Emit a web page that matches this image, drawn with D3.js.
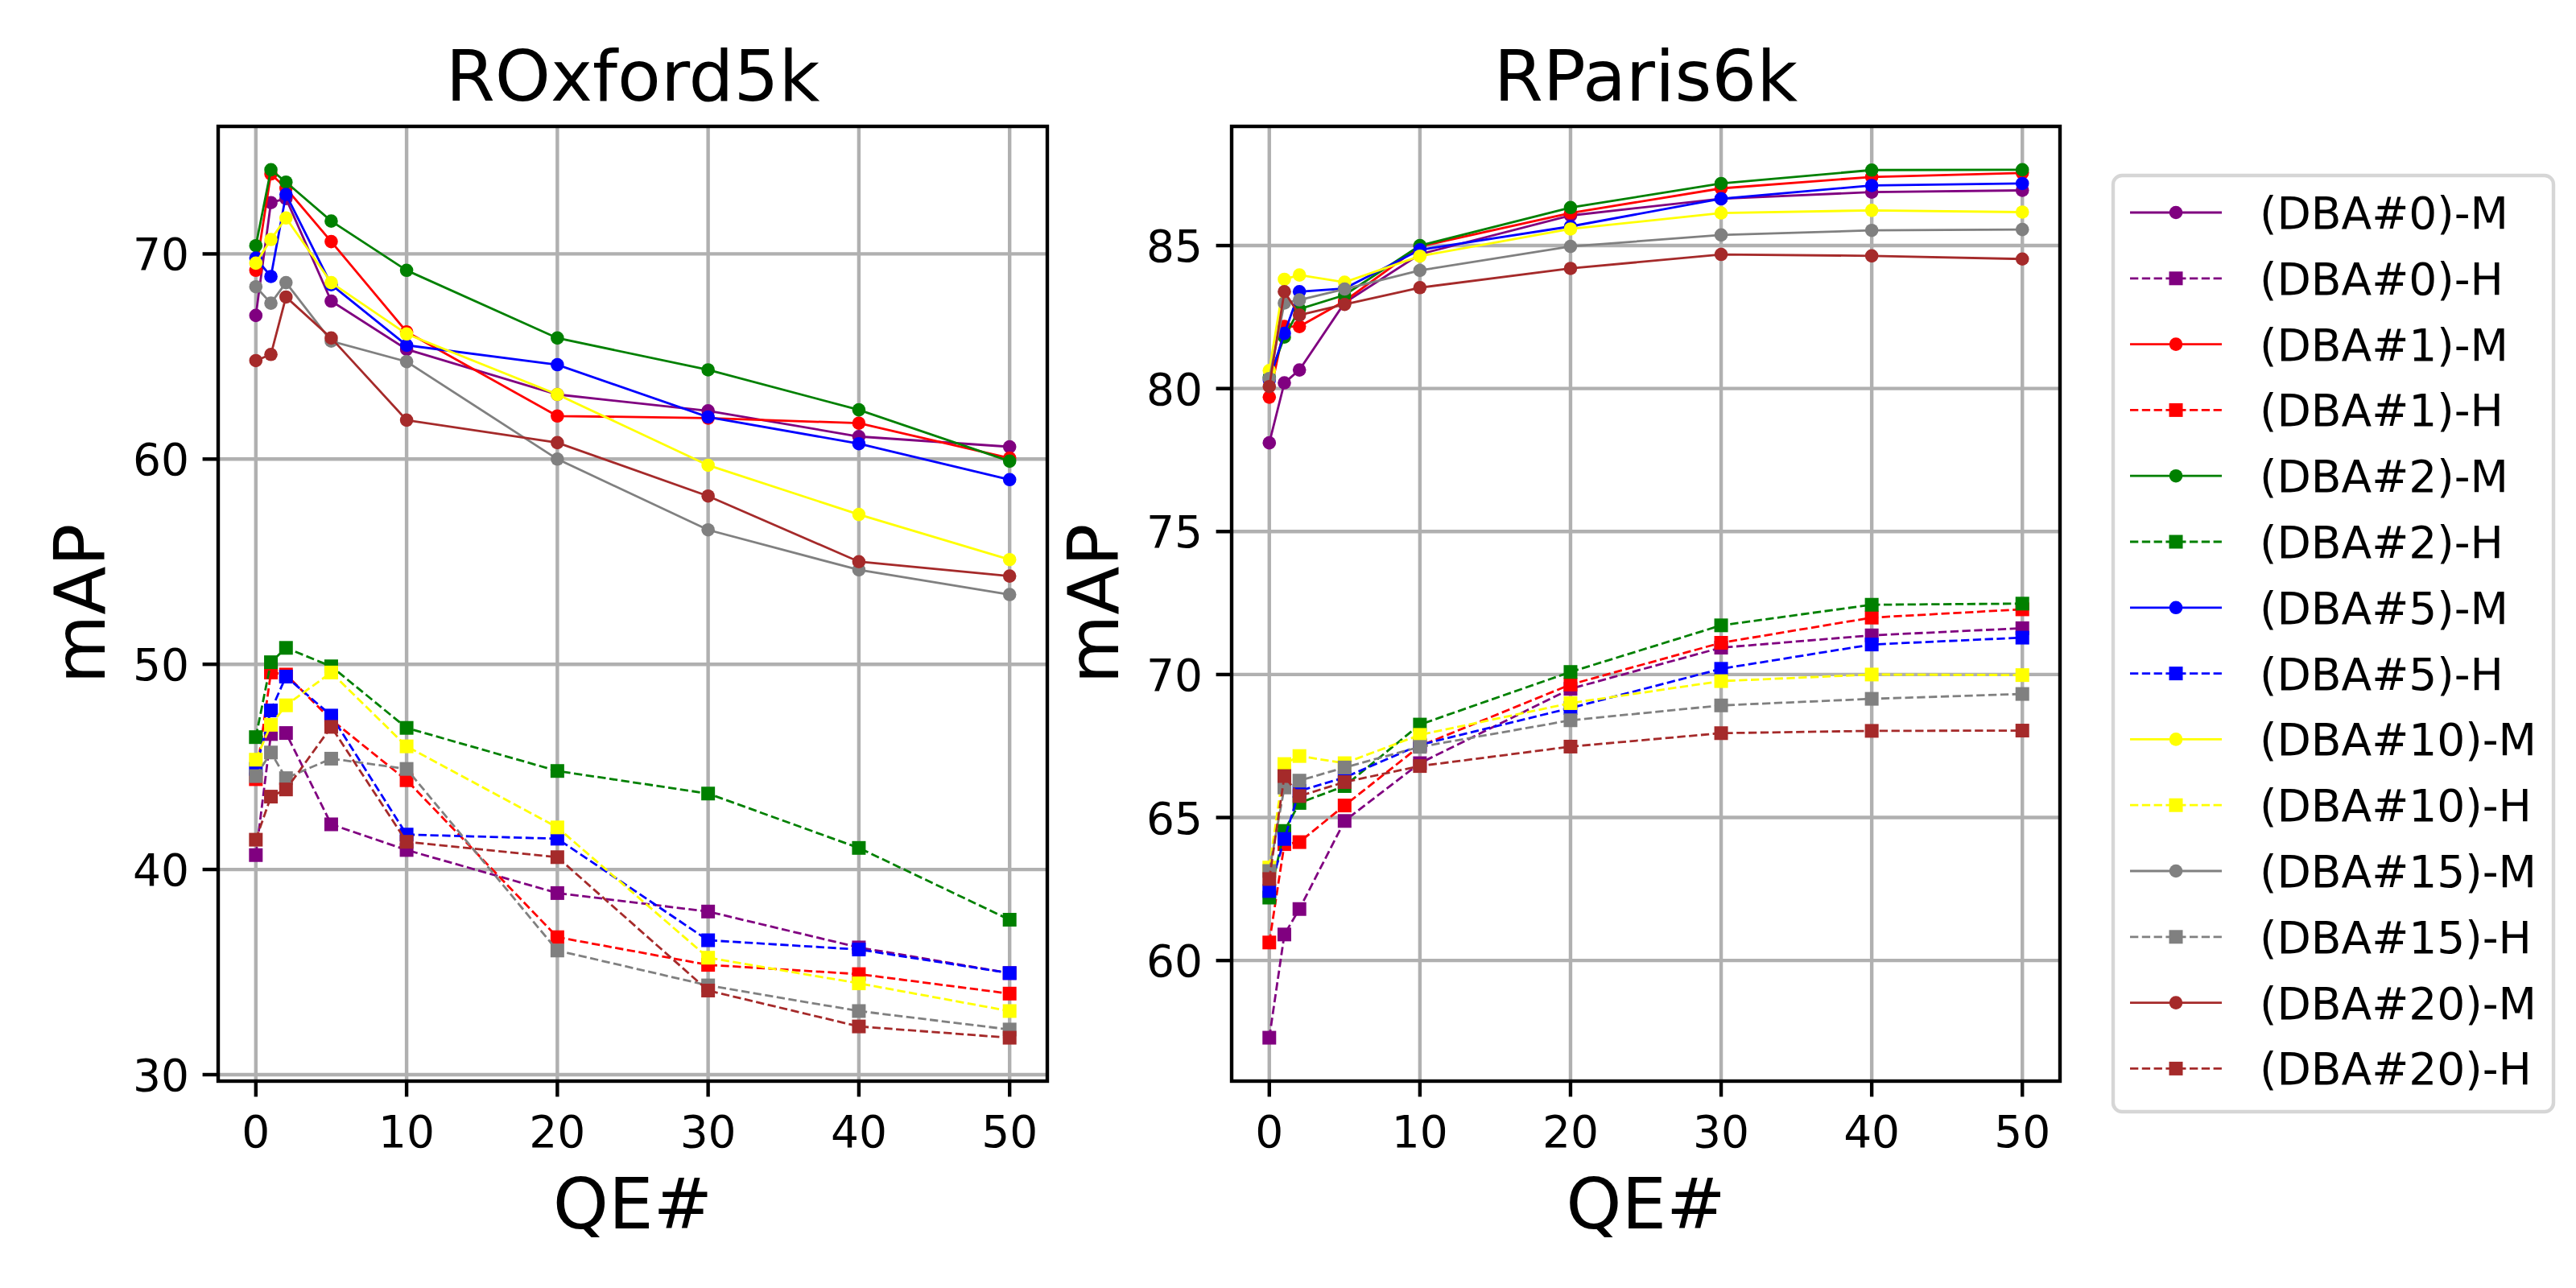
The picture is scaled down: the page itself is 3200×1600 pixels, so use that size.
<!DOCTYPE html>
<html lang="en">
<head>
<meta charset="utf-8">
<title>ROxford5k / RParis6k</title>
<script src="https://cdn.jsdelivr.net/npm/d3@7/dist/d3.min.js"></script>
<style>
  body { margin: 0; background: #fff; }
  svg text { font-family: "DejaVu Sans", sans-serif; fill: #000; }
</style>
</head>
<body>
<script>
// x values (number of query expansion neighbours)
var qe = [0, 1, 2, 5, 10, 20, 30, 40, 50];
var dba = ["0", "1", "2", "5", "10", "15", "20"];
var colors = ["purple", "red", "green", "blue", "yellow", "gray", "brown"];

// ROxford5k, medium protocol (one row per DBA setting)
var oxfordM = [
  [67.0, 72.5, 72.7, 67.7, 65.35, 63.15, 62.35, 61.1, 60.6],
  [69.2, 73.9, 73.2, 70.6, 66.2, 62.1, 62.0, 61.75, 60.05],
  [70.4, 74.1, 73.5, 71.6, 69.2, 65.9, 64.35, 62.4, 59.9],
  [69.8, 68.9, 72.9, 68.5, 65.55, 64.6, 62.05, 60.75, 59.0],
  [69.55, 70.7, 71.75, 68.6, 66.1, 63.15, 59.7, 57.3, 55.1],
  [68.4, 67.6, 68.6, 65.75, 64.75, 60.0, 56.55, 54.6, 53.4],
  [64.8, 65.1, 67.9, 65.9, 61.9, 60.8, 58.2, 55.0, 54.3]
];
// ROxford5k, hard protocol
var oxfordH = [
  [40.7, 46.6, 46.65, 42.2, 40.95, 38.85, 37.95, 36.2, 34.95],
  [44.4, 49.6, 49.5, 47.3, 44.35, 36.7, 35.35, 34.9, 33.95],
  [46.45, 50.1, 50.8, 49.9, 46.9, 44.8, 43.7, 41.05, 37.55],
  [44.9, 47.75, 49.4, 47.5, 41.7, 41.5, 36.55, 36.1, 34.95],
  [45.35, 47.05, 48.0, 49.6, 46.0, 42.05, 35.7, 34.45, 33.1],
  [44.55, 45.7, 44.45, 45.4, 44.9, 36.05, 34.35, 33.1, 32.2],
  [41.45, 43.55, 43.9, 46.95, 41.35, 40.6, 34.1, 32.35, 31.8]
];
// RParis6k, medium protocol
var parisM = [
  [78.1, 80.2, 80.65, 83.0, 84.7, 86.05, 86.64, 86.87, 86.93],
  [79.7, 82.17, 82.17, 83.06, 84.97, 86.14, 87.0, 87.4, 87.54],
  [80.4, 81.8, 82.78, 83.27, 85.0, 86.33, 87.17, 87.64, 87.65],
  [80.3, 81.93, 83.39, 83.5, 84.85, 85.67, 86.64, 87.1, 87.17],
  [80.63, 83.82, 83.97, 83.72, 84.63, 85.58, 86.14, 86.23, 86.17],
  [80.35, 82.99, 83.1, 83.48, 84.13, 84.97, 85.37, 85.53, 85.56],
  [80.07, 83.39, 82.57, 82.94, 83.53, 84.2, 84.69, 84.64, 84.53]
];
// RParis6k, hard protocol
var parisH = [
  [57.3, 60.91, 61.8, 64.88, 66.9, 69.5, 70.94, 71.37, 71.62],
  [60.63, 64.07, 64.14, 65.42, 67.5, 69.65, 71.11, 71.99, 72.28],
  [62.2, 64.53, 65.51, 66.1, 68.25, 70.09, 71.72, 72.44, 72.48],
  [62.43, 64.25, 65.93, 66.4, 67.54, 68.83, 70.2, 71.05, 71.29],
  [63.25, 66.87, 67.15, 66.9, 67.89, 69.0, 69.77, 70.0, 69.98],
  [63.13, 66.05, 66.29, 66.75, 67.47, 68.4, 68.92, 69.15, 69.32],
  [62.85, 66.45, 65.75, 66.24, 66.8, 67.48, 67.95, 68.03, 68.04]
];
var xTicks = [0, 10, 20, 30, 40, 50];
var oxfordTicks = [30, 40, 50, 60, 70];
var parisTicks = [60, 65, 70, 75, 80, 85];

var W = 3200, H = 1600;
var plotTop = 157, plotBottom = 1343;
var lw = 2.8, gridW = 4.4, spineW = 4.4;
var tickFont = 55, bigFont = 88;

var svg = d3.select("body").append("svg")
  .attr("width", W)
  .attr("height", H)
  .style("display", "block");

svg.append("rect").attr("width", W).attr("height", H).attr("fill", "#fff");

// matplotlib style autoscale: data extent plus 5% on each side
function padded(arrays) {
  var all = d3.merge(arrays.map(function(a) { return d3.merge(a); }));
  var ext = d3.extent(all);
  var m = (ext[1] - ext[0]) * 0.05;
  return [ext[0] - m, ext[1] + m];
}

function panel(left, right, title, M, Hd, yTicks) {
  var x = d3.scaleLinear().domain([-2.5, 52.5]).range([left, right]);
  var y = d3.scaleLinear().domain(padded([M, Hd])).range([plotBottom, plotTop]);
  var g = svg.append("g");

  // grid
  g.selectAll(".vg").data(xTicks).enter().append("line")
    .attr("x1", function(d) { return x(d); }).attr("x2", function(d) { return x(d); })
    .attr("y1", plotTop).attr("y2", plotBottom)
    .attr("stroke", "#b0b0b0").attr("stroke-width", gridW);
  g.selectAll(".hg").data(yTicks).enter().append("line")
    .attr("x1", left).attr("x2", right)
    .attr("y1", function(d) { return y(d); }).attr("y2", function(d) { return y(d); })
    .attr("stroke", "#b0b0b0").attr("stroke-width", gridW);

  var line = d3.line()
    .x(function(d, i) { return x(qe[i]); })
    .y(function(d) { return y(d); });

  // series in legend order: M then H for each DBA
  dba.forEach(function(name, k) {
    var c = colors[k];
    g.append("path").datum(M[k])
      .attr("d", line).attr("fill", "none")
      .attr("stroke", c).attr("stroke-width", lw);
    g.selectAll(".m" + k).data(M[k]).enter().append("circle")
      .attr("cx", function(d, i) { return x(qe[i]); })
      .attr("cy", function(d) { return y(d); })
      .attr("r", 8.3).attr("fill", c);

    g.append("path").datum(Hd[k])
      .attr("d", line).attr("fill", "none")
      .attr("stroke", c).attr("stroke-width", lw)
      .attr("stroke-dasharray", "10.3,4.5");
    g.selectAll(".h" + k).data(Hd[k]).enter().append("rect")
      .attr("x", function(d, i) { return x(qe[i]) - 8.5; })
      .attr("y", function(d) { return y(d) - 8.5; })
      .attr("width", 17).attr("height", 17).attr("fill", c);
  });

  // frame
  g.append("rect")
    .attr("x", left).attr("y", plotTop)
    .attr("width", right - left).attr("height", plotBottom - plotTop)
    .attr("fill", "none").attr("stroke", "#000").attr("stroke-width", spineW);

  // x ticks
  g.selectAll(".xt").data(xTicks).enter().append("line")
    .attr("x1", function(d) { return x(d); }).attr("x2", function(d) { return x(d); })
    .attr("y1", plotBottom).attr("y2", plotBottom + 19.4)
    .attr("stroke", "#000").attr("stroke-width", spineW);
  g.selectAll(".xl").data(xTicks).enter().append("text")
    .attr("x", function(d) { return x(d); })
    .attr("y", 1425)
    .attr("text-anchor", "middle")
    .attr("font-size", tickFont)
    .text(function(d) { return d; });

  // y ticks
  g.selectAll(".yt").data(yTicks).enter().append("line")
    .attr("x1", left - 19.4).attr("x2", left)
    .attr("y1", function(d) { return y(d); }).attr("y2", function(d) { return y(d); })
    .attr("stroke", "#000").attr("stroke-width", spineW);
  g.selectAll(".yl").data(yTicks).enter().append("text")
    .attr("x", left - 36)
    .attr("y", function(d) { return y(d) + 20; })
    .attr("text-anchor", "end")
    .attr("font-size", tickFont)
    .text(function(d) { return d; });

  // labels
  g.append("text")
    .attr("x", (left + right) / 2).attr("y", 125)
    .attr("text-anchor", "middle").attr("font-size", bigFont)
    .text(title);
  g.append("text")
    .attr("x", (left + right) / 2).attr("y", 1526)
    .attr("text-anchor", "middle").attr("font-size", bigFont)
    .text("QE#");
  g.append("text")
    .attr("transform", "translate(" + (left - 141) + "," + ((plotTop + plotBottom) / 2) + ") rotate(-90)")
    .attr("text-anchor", "middle").attr("font-size", bigFont)
    .text("mAP");
}

panel(271, 1301, "ROxford5k", oxfordM, oxfordH, oxfordTicks);
panel(1530, 2559, "RParis6k", parisM, parisH, parisTicks);

// legend
var lg = svg.append("g");
lg.append("rect")
  .attr("x", 2625).attr("y", 218)
  .attr("width", 547).attr("height", 1163)
  .attr("rx", 11).attr("ry", 11)
  .attr("fill", "#fff").attr("fill-opacity", 0.8)
  .attr("stroke", "#d6d6d6").attr("stroke-width", 4.4);

var entries = [];
dba.forEach(function(name, k) {
  entries.push({ label: "(DBA#" + name + ")-M", color: colors[k], hard: false });
  entries.push({ label: "(DBA#" + name + ")-H", color: colors[k], hard: true });
});

var row = lg.selectAll(".entry").data(entries).enter().append("g")
  .attr("transform", function(d, i) { return "translate(0," + (264 + i * 81.8) + ")"; });
row.append("line")
  .attr("x1", 2646).attr("x2", 2760).attr("y1", 0).attr("y2", 0)
  .attr("stroke", function(d) { return d.color; })
  .attr("stroke-width", lw)
  .attr("stroke-dasharray", function(d) { return d.hard ? "10.3,4.5" : null; });
row.filter(function(d) { return !d.hard; }).append("circle")
  .attr("cx", 2703).attr("cy", 0).attr("r", 8.3)
  .attr("fill", function(d) { return d.color; });
row.filter(function(d) { return d.hard; }).append("rect")
  .attr("x", 2703 - 8.5).attr("y", -8.5).attr("width", 17).attr("height", 17)
  .attr("fill", function(d) { return d.color; });
row.append("text")
  .attr("x", 2807).attr("y", 20)
  .attr("font-size", tickFont)
  .text(function(d) { return d.label; });
</script>
</body>
</html>
